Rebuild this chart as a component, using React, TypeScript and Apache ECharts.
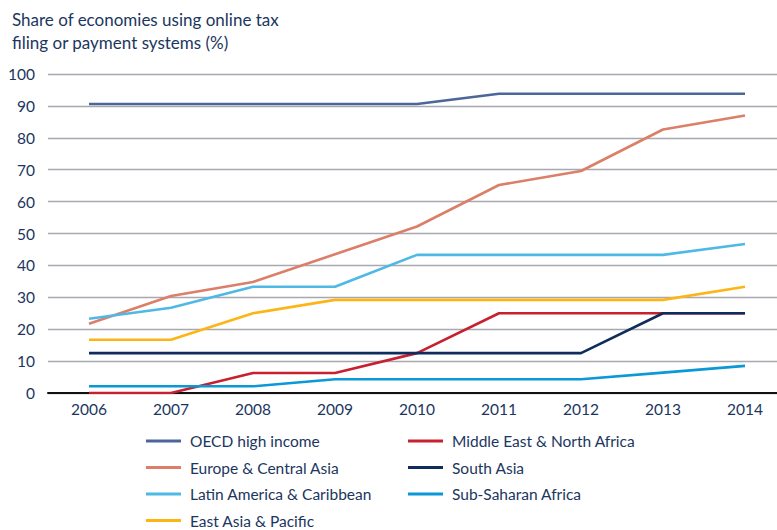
import React, { useEffect, useRef } from "react";
import * as echarts from "echarts";

const years = ["2006", "2007", "2008", "2009", "2010", "2011", "2012", "2013", "2014"];
const oecd = [90.6, 90.6, 90.6, 90.6, 90.6, 93.8, 93.8, 93.8, 93.8];
const europe = [21.7, 30.4, 34.8, 43.5, 52.2, 65.2, 69.6, 82.6, 87.0];
const latin = [23.3, 26.7, 33.3, 33.3, 43.3, 43.3, 43.3, 43.3, 46.7];
const eastAsia = [16.7, 16.7, 25.0, 29.2, 29.2, 29.2, 29.2, 29.2, 33.3];
const mena = [0, 0, 6.25, 6.25, 12.5, 25, 25, 25, 25];
const southAsia = [12.5, 12.5, 12.5, 12.5, 12.5, 12.5, 12.5, 25, 25];
const ssa = [2.1, 2.1, 2.1, 4.3, 4.3, 4.3, 4.3, 6.4, 8.5];

const names = [
  "OECD high income",
  "Europe & Central Asia",
  "Latin America & Caribbean",
  "East Asia & Pacific",
  "Middle East & North Africa",
  "South Asia",
  "Sub-Saharan Africa",
];
const colors = ["#4c6699", "#dc7f68", "#4fb9e6", "#fdb515", "#c8202f", "#0e2d5c", "#0b98d6"];
const values = [oecd, europe, latin, eastAsia, mena, southAsia, ssa];

const TEXT = "#1b3660";
const FONT = "Lato, 'Open Sans', sans-serif";

export default function App() {
  const ref = useRef<HTMLDivElement>(null);
  useEffect(() => {
    if (!ref.current) return;
    const chart = echarts.init(ref.current, undefined, { renderer: "svg" });
    const legendCommon = {
      orient: "vertical" as const,
      top: 431,
      padding: 0,
      icon: "rect",
      itemWidth: 35,
      itemHeight: 3,
      itemGap: 6.5,
      textStyle: { fontSize: 15.5, color: TEXT, fontFamily: FONT, lineHeight: 20, padding: [0, 0, 0, 4] },
      selectedMode: false,
    };
    chart.setOption({
      animation: false,
      title: {
        text: "Share of economies using online tax\nfiling or payment systems (%)",
        left: 12,
        top: 8,
        padding: 0,
        textStyle: { fontSize: 17, fontWeight: "normal", color: TEXT, fontFamily: FONT, lineHeight: 23 },
      },
      grid: { left: 48, top: 74, width: 738, height: 319 },
      legend: [
        { ...legendCommon, left: 146, data: names.slice(0, 4) },
        { ...legendCommon, left: 408, data: names.slice(4) },
      ],
      xAxis: {
        type: "category",
        data: years,
        boundaryGap: true,
        axisLine: { lineStyle: { color: "#111", width: 2 } },
        axisTick: { show: false },
        axisLabel: { fontSize: 15.5, color: TEXT, fontFamily: FONT, margin: 8 },
        splitLine: { show: false },
      },
      yAxis: {
        type: "value",
        min: 0,
        max: 100,
        interval: 10,
        axisLine: { show: false },
        axisTick: { show: false },
        axisLabel: { fontSize: 15.5, color: TEXT, fontFamily: FONT, margin: 13 },
        splitLine: { lineStyle: { color: "#a8a8b0", width: 1.3 } },
      },
      series: values.map((v, i) => ({
        name: names[i],
        type: "line",
        data: v,
        symbol: "none",
        lineStyle: { color: colors[i], width: 2.6 },
        itemStyle: { color: colors[i] },
      })),
    });
    return () => chart.dispose();
  }, []);
  return (
    <div style={{ position: "fixed", left: 0, top: 0, width: 777, height: 530, overflow: "hidden", background: "#fff" }}>
      <div ref={ref} style={{ width: 800, height: 580 }} />
    </div>
  );
}
